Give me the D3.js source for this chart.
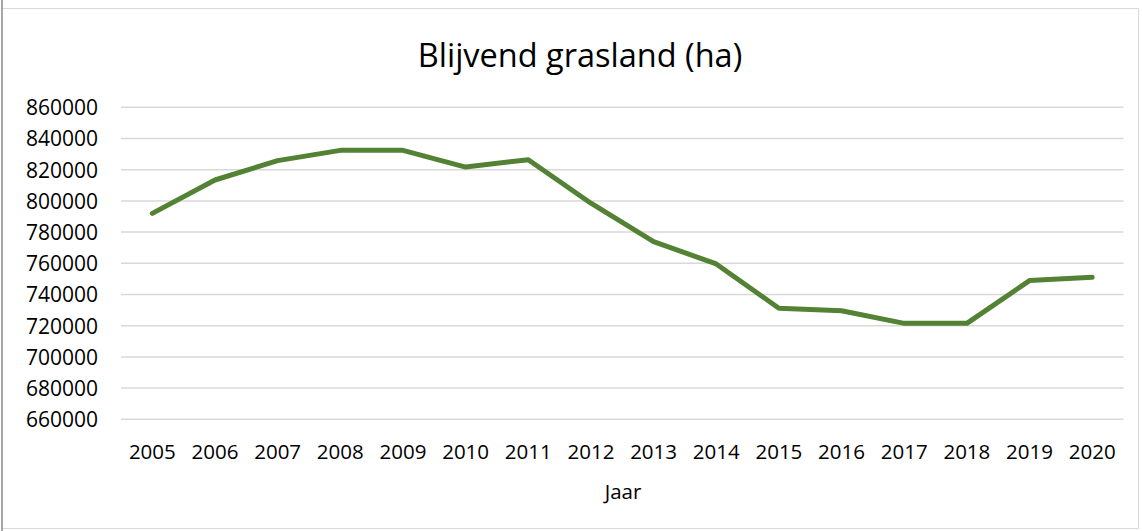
<!DOCTYPE html>
<html><head><meta charset="utf-8">
<script src="https://cdn.jsdelivr.net/npm/d3@7"></script>
<style>body{margin:0;background:#fff}svg{display:block}text{font-family:"Open Sans",Lato,sans-serif;fill:#000}</style>
</head><body><svg id="c" width="1142" height="531"></svg>
<script>
const years = ["2005","2006","2007","2008","2009","2010","2011","2012","2013","2014","2015","2016","2017","2018","2019","2020"];
const values = [792000,813400,825800,832400,832400,821700,826400,798500,773900,759600,731200,729600,721500,721500,748900,751000];
const yTicks = [660000,680000,700000,720000,740000,760000,780000,800000,820000,840000,860000];
const title = "Blijvend grasland (ha)";
const xTitle = "Jaar";

const svg = d3.select("#c");
svg.append("rect").attr("x",1.5).attr("y",8.5).attr("width",1137).attr("height",520)
  .attr("fill","#fff").attr("stroke","#d9d9d9");
svg.append("line").attr("x1",2).attr("x2",2).attr("y1",0).attr("y2",531).attr("stroke","#a6a6a6").attr("stroke-width",2);

const x = d3.scaleBand().domain(years).range([121,1123.5]);
const y = d3.scaleLinear().domain([660000,860000]).range([419.3,107.3]);

const grid = svg.append("g");
grid.selectAll("line").data(yTicks).join("line")
  .attr("x1",121).attr("x2",1123.5)
  .attr("y1",d=>y(d)).attr("y2",d=>y(d))
  .attr("stroke","#d9d9d9").attr("stroke-width",1.5);

const yAxis = d3.axisLeft(y).tickValues(yTicks).tickSize(0).tickPadding(0).tickFormat(d3.format("d"));
const ya = svg.append("g").attr("transform","translate(98,0)").call(yAxis);
ya.select(".domain").remove();
ya.selectAll("text").attr("font-size",21).attr("font-family","Open Sans").attr("dy","0.35em");

const xAxis = d3.axisBottom(x).tickSize(0).tickPadding(0);
const xa = svg.append("g").attr("transform","translate(0,444)").call(xAxis);
xa.select(".domain").remove();
xa.selectAll("text").attr("font-size",20.5).attr("font-family","Open Sans").attr("dy","0.71em");

const line = d3.line().x((d,i)=>x(years[i])+x.bandwidth()/2).y(d=>y(d));
svg.append("path").datum(values).attr("d",line)
  .attr("fill","none").attr("stroke","#548235").attr("stroke-width",5)
  .attr("stroke-linejoin","round").attr("stroke-linecap","round");

svg.append("text").attr("x",580).attr("y",67).attr("text-anchor","middle")
  .attr("font-size",32.5).text(title);
svg.append("text").attr("x",623).attr("y",499).attr("text-anchor","middle")
  .attr("font-size",20.5).text(xTitle);
</script></body></html>
